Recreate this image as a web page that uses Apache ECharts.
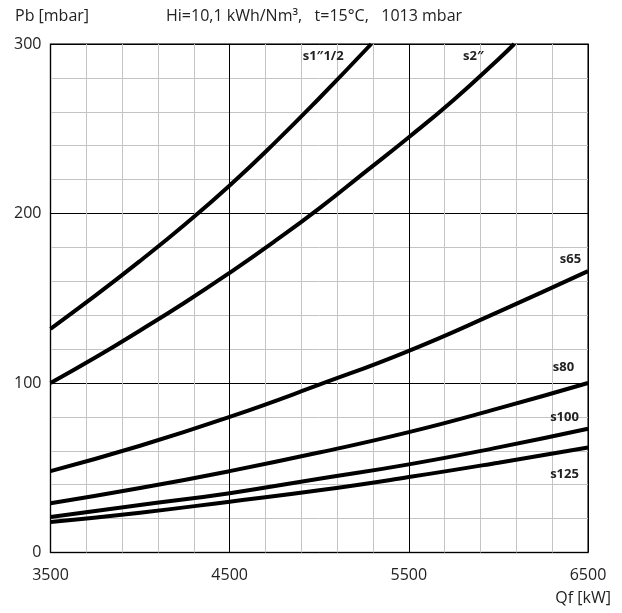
<!DOCTYPE html>
<html>
<head>
<meta charset="utf-8">
<script src="https://cdn.jsdelivr.net/npm/echarts@6/dist/echarts.min.js"></script>
<style>html,body{margin:0;padding:0;background:#fff}#c{width:622px;height:613px}</style>
</head>
<body>
<div id="c"></div>
<script>
// Data
const xTickLabels = [3500, 4500, 5500, 6500];
const yTickLabels = [0, 100, 200, 300];
const seriesNames = ['s1\u20331/2', 's2\u2033', 's65', 's80', 's100', 's125'];
const s1_x = [3500, 3750, 4000, 4250, 4500, 4750, 5000, 5290];
const s1_y = [132, 151.5, 172, 193.5, 216.5, 241.5, 268, 300];
const s2_x = [3500, 3750, 4000, 4250, 4500, 4750, 5000, 5250, 5500, 5750, 6000, 6088];
const s2_y = [100, 115, 131, 147.5, 165, 183.5, 203, 224, 245, 267, 291, 300];
const base_x = [3500, 4000, 4500, 5000, 5500, 6000, 6500];
const s65_y = [48, 63, 80, 99, 119, 142, 166];
const s80_y = [29, 38, 48, 59, 71, 85, 100];
const s100_y = [21, 28, 35, 43.5, 52, 62, 73];
const s125_y = [18, 23.5, 30, 36.7, 44.5, 53, 62];

const FONT = '"Open Sans"';
const chart = echarts.init(document.getElementById('c'), null, {renderer: 'canvas'});
const zip = (xs, ys) => xs.map((x, i) => [x, ys[i]]);
const curves = [
  zip(s1_x, s1_y), zip(s2_x, s2_y), zip(base_x, s65_y),
  zip(base_x, s80_y), zip(base_x, s100_y), zip(base_x, s125_y)
];
const labelAt = [[5022, 293], [5860, 292.6], [6402, 172.7], [6363, 109.5], [6369, 80], [6369, 46.4]];

const series = curves.map((d, i) => ({
  type: 'line', name: seriesNames[i], data: d, smooth: true, showSymbol: false, symbol: 'none',
  lineStyle: {color: '#000', width: 4}, silent: true, clip: true,
  markPoint: {
    symbol: 'circle', symbolSize: 0,
    data: [{coord: labelAt[i], value: seriesNames[i]}],
    label: {show: true, position: 'inside', formatter: seriesNames[i], color: '#222', fontFamily: FONT, fontWeight: 'bold', fontSize: 13}
  }
}));

const minor = '#c4c4c4';
chart.setOption({
  animation: false,
  backgroundColor: '#fff',
  grid: {left: 50.5, right: 34, top: 44, bottom: 60.5, show: true, borderColor: '#444', borderWidth: 1.5, backgroundColor: 'transparent'},
  xAxis: {
    type: 'value', min: 3500, max: 6500, interval: 200,
    axisLine: {show: false}, axisTick: {show: false},
    axisLabel: {color: '#222', fontFamily: FONT, fontSize: 16, margin: 15,
      formatter: v => xTickLabels.includes(v) ? String(v) : ''},
    splitLine: {show: true, lineStyle: {color: ['#000', minor, minor, minor, minor], width: 1}}
  },
  yAxis: {
    type: 'value', min: 0, max: 300, interval: 20,
    axisLine: {show: false}, axisTick: {show: false},
    axisLabel: {color: '#222', fontFamily: FONT, fontSize: 16, margin: 9,
      formatter: v => yTickLabels.includes(v) ? String(v) : ''},
    splitLine: {show: true, lineStyle: {color: ['#000', minor, minor, minor, minor], width: 1}}
  },
  graphic: [
    {type: 'text', left: 15, top: 8, style: {text: 'Pb [mbar]', fill: '#222', font: '16px ' + FONT}},
    {type: 'text', left: 166, top: 8, style: {text: 'Hi=10,1 kWh/Nm\u00b3,   t=15\u00b0C,   1013 mbar', fill: '#222', font: '16px ' + FONT}},
    {type: 'text', right: 11, top: 590, style: {text: 'Qf [kW]', fill: '#222', font: '16px ' + FONT}}
  ],
  series: series
});
</script>
</body>
</html>
